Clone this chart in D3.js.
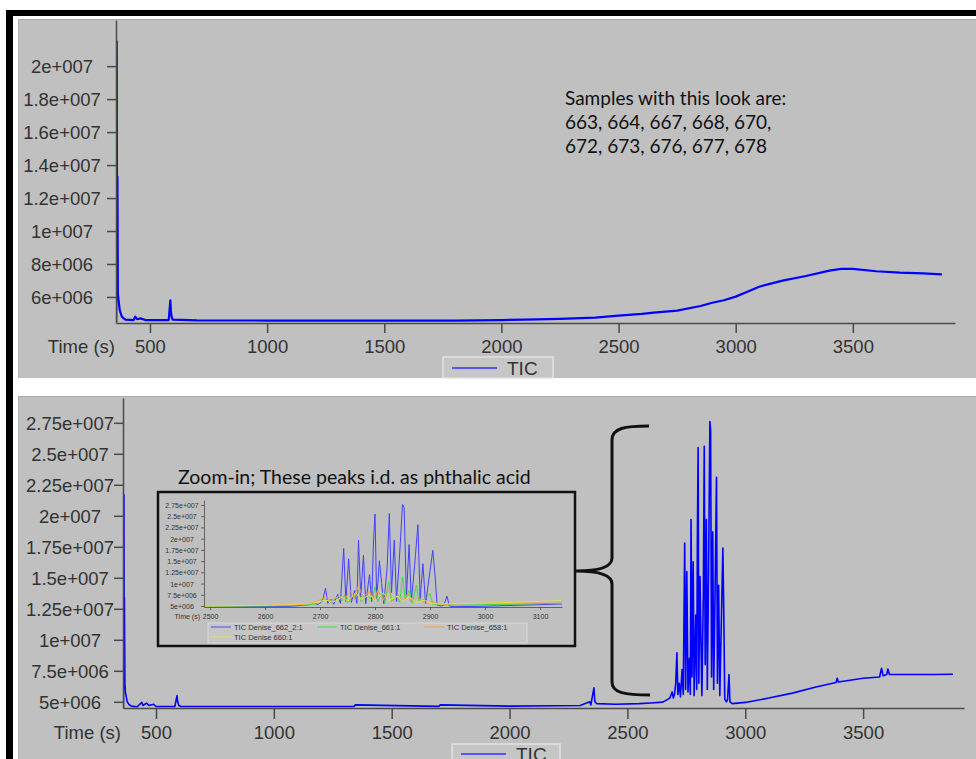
<!DOCTYPE html>
<html><head><meta charset="utf-8">
<script src="https://cdn.jsdelivr.net/npm/d3@7"></script>
<style>body{margin:0;background:#fff}svg{display:block}</style>
</head><body><svg id="c" width="976" height="759"></svg>
<script>
// ---------- DATA ----------
const topTime = [356,358,359,360,361,363,366,371,380,395,430,437,445,460,480,580,587,589,592,597,700,1000,1200,1500,1800,2000,2100,2250,2400,2500,2600,2650,2750,2850,2900,2950,3000,3050,3100,3200,3300,3400,3450,3500,3600,3700,3800,3880];
const topTIC  = [4.5e6,2.15e7,1.2e7,1.0e7,1.33e7,6.2e6,5.8e6,5.2e6,4.8e6,4.62e6,4.6e6,4.8e6,4.65e6,4.7e6,4.6e6,4.6e6,5.8e6,5.2e6,4.8e6,4.62e6,4.58e6,4.57e6,4.57e6,4.56e6,4.57e6,4.6e6,4.62e6,4.67e6,4.75e6,4.87e6,4.97e6,5.05e6,5.17e6,5.45e6,5.65e6,5.8e6,6.02e6,6.32e6,6.62e6,6.99e6,7.27e6,7.6e6,7.7e6,7.7e6,7.56e6,7.47e6,7.43e6,7.37e6];

const botTime = [362,364,365,366,368,370,373,378,385,395,420,440,445,460,470,490,500,580,589,592,597,605,1000,1340,1345,1700,1705,2000,2200,2300,2340,2345,2358,2362,2370,2450,2550,2600,2650,2680,2690,2695,2700,2705,2710,2714,2720,2725,2732,2737,2743,2747,2752,2757,2763,2767,2770,2774,2779,2783,2790,2794,2797,2800,2803,2808,2812,2816,2822,2826,2830,2835,2839,2844,2850,2853,2857,2862,2866,2872,2878,2882,2887,2892,2898,2905,2909,2913,2920,2925,2931,2935,2945,3000,3100,3200,3300,3385,3390,3395,3500,3570,3578,3585,3600,3605,3612,3700,3800,3881];
const botTIC  = [4.5e6,2.17e7,1.0e7,1.34e7,6.5e6,5.8e6,5.5e6,5.0e6,4.8e6,4.65e6,4.6e6,4.95e6,4.7e6,4.9e6,4.7e6,4.8e6,4.62e6,4.62e6,5.5e6,5.0e6,4.7e6,4.62e6,4.62e6,4.62e6,4.75e6,4.63e6,4.75e6,4.65e6,4.68e6,4.7e6,5.0e6,4.75e6,6.13e6,5.0e6,4.85e6,4.8e6,4.85e6,4.9e6,4.97e6,5.3e6,5.8e6,5.3e6,5.6e6,6.5e6,8.95e6,5.6e6,6.5e6,5.4e6,7.6e6,5.6e6,1.78e7,6.0e6,1.55e7,5.8e6,8.5e6,5.6e6,1.97e7,7.0e6,1.63e7,5.5e6,1.2e7,6.0e6,1.86e7,2.55e7,6.5e6,1.51e7,1.0e7,5.5e6,1.35e7,2.56e7,8.0e6,1.97e7,6.0e6,1.5e7,2.76e7,2.69e7,7.0e6,1.87e7,6.0e6,1.4e7,2.31e7,6.5e6,1.44e7,5.5e6,1.1e7,1.74e7,1.2e7,5.2e6,5.0e6,5.2e6,7.2e6,5.0e6,4.85e6,4.95e6,5.3e6,5.7e6,6.2e6,6.55e6,6.9e6,6.6e6,6.9e6,7.0e6,7.7e6,7.1e6,7.2e6,7.65e6,7.2e6,7.2e6,7.2e6,7.22e6];

const inset661Time = [2489,2600,2680,2700,2710,2720,2730,2740,2745,2750,2760,2770,2775,2785,2795,2800,2805,2812,2818,2825,2830,2840,2845,2850,2855,2862,2868,2875,2880,2890,2900,2905,2950,3000,3140];
const inset661     = [4.9e6,5.0e6,5.3e6,5.6e6,6.5e6,5.8e6,6.8e6,6.2e6,7.5e6,5.8e6,6.5e6,8.5e6,6.0e6,7.5e6,6.2e6,9.3e6,6.0e6,7.8e6,5.8e6,1.04e7,6.0e6,7.2e6,5.8e6,1.15e7,6.5e6,8.5e6,5.6e6,9.7e6,6.0e6,6.5e6,7.8e6,5.3e6,5.2e6,5.3e6,5.6e6];
const inset658Time = [2489,2600,2670,2690,2710,2720,2735,2745,2755,2762,2770,2777,2790,2798,2805,2815,2825,2833,2843,2850,2860,2868,2878,2890,2900,2920,3000,3140];
const inset658     = [5.0e6,5.1e6,5.4e6,5.8e6,7.0e6,6.2e6,7.3e6,6.5e6,8.5e6,6.4e6,9.7e6,7.0e6,8.2e6,6.4e6,8.5e6,6.3e6,8.6e6,6.2e6,7.5e6,6.2e6,7.8e6,5.8e6,7.2e6,5.6e6,6.0e6,5.4e6,5.6e6,6.0e6];
const inset660Time = [2489,2600,2680,2710,2725,2740,2750,2765,2775,2790,2800,2815,2825,2840,2850,2862,2875,2890,2905,2950,3050,3140];
const inset660     = [5.0e6,5.15e6,5.5e6,6.3e6,5.9e6,7.0e6,6.0e6,8.0e6,6.4e6,7.5e6,6.2e6,8.0e6,6.2e6,7.2e6,6.0e6,7.0e6,5.8e6,6.3e6,5.5e6,5.5e6,5.8e6,6.2e6];

const topYTicks = [6e6,8e6,1e7,1.2e7,1.4e7,1.6e7,1.8e7,2e7];
const botYTicks = [5e6,7.5e6,1e7,1.25e7,1.5e7,1.75e7,2e7,2.25e7,2.5e7,2.75e7];
const xTicks = [500,1000,1500,2000,2500,3000,3500];
const insetXTicks = [2500,2600,2700,2800,2900,3000,3100];
const insetLegend = ["TIC Denise_662_2:1","TIC Denise_661:1","TIC Denise_658:1","TIC Denise 660:1"];
const insetColors = ["#4040ff","#33dd33","#ff9933","#e6e640"];
const legendLabel = "TIC";
const noteLines = ["Samples with this look are:","663, 664, 667, 668, 670,","672, 673, 676, 677, 678"];
const insetTitle = "Zoom-in; These peaks i.d. as phthalic acid";

// ---------- HELPERS ----------
function sci(v){
  const e = Math.floor(Math.log10(v)+1e-9);
  let m = +(v/Math.pow(10,e)).toFixed(3);
  return m + "e+" + String(e).padStart(3,"0");
}
const svg = d3.select("#c");
const FONT = "'Liberation Sans', Arial, sans-serif";
const NOTEFONT = "Lato, 'Open Sans', sans-serif";
const GRAY = "#c0c0c0";
const AX = "#4a4a4a";

// frame
svg.append("rect").attr("x",6).attr("y",10).attr("width",980).attr("height",760).attr("fill","#000");
svg.append("rect").attr("x",13).attr("y",16).attr("width",980).attr("height",760).attr("fill","#fff");
function bg(y0,y1){
  svg.append("rect").attr("x",18).attr("y",y0).attr("width",960).attr("height",y1-y0).attr("fill",GRAY);
  svg.append("line").attr("x1",18).attr("x2",976).attr("y1",y0+0.5).attr("y2",y0+0.5).attr("stroke","#a8a8a8");
  svg.append("line").attr("x1",18.5).attr("x2",18.5).attr("y1",y0).attr("y2",y1).attr("stroke","#b0b0b0");
}
bg(19,378);
bg(396,770);

function panel(o){
  const x = d3.scaleLinear().domain(o.xd).range(o.xr);
  const y = d3.scaleLinear().domain(o.yd).range(o.yr);
  const g = svg.append("g");
  const id = "clip"+o.id;
  svg.append("clipPath").attr("id",id).append("rect")
    .attr("x",o.xr[0]).attr("y",o.yr[1]).attr("width",o.xr[1]-o.xr[0]).attr("height",o.yr[0]-o.yr[1]);
  o.series.forEach(s=>{
    const pts = s.t.map((t,i)=>[t,s.v[i]]);
    g.append("path").attr("clip-path",`url(#${id})`)
      .attr("d", d3.line().x(d=>x(d[0])).y(d=>y(d[1]))(pts))
      .attr("fill","none").attr("stroke",s.c).attr("stroke-width",s.w).attr("stroke-linejoin","round");
  });
  const ya = g.append("g").attr("transform",`translate(${o.xr[0]},0)`)
    .call(d3.axisLeft(y).tickValues(o.yt).tickFormat(sci).tickSize(o.ts).tickSizeOuter(0));
  ya.selectAll("text").attr("text-anchor","middle").attr("x",o.ylc-o.xr[0]).attr("dy","0.35em")
    .style("font-family",FONT).style("font-size",o.fs+"px").attr("fill","#333");
  const xa = g.append("g").attr("transform",`translate(0,${o.yr[0]})`)
    .call(d3.axisBottom(x).tickValues(o.xt).tickFormat(d3.format("d")).tickSize(o.tsx).tickSizeOuter(0));
  xa.selectAll("text").attr("y",o.xly).attr("dy","0.35em")
    .style("font-family",FONT).style("font-size",o.fs+"px").attr("fill","#333");
  [ya,xa].forEach(a=>{
    a.select(".domain").attr("stroke",AX).attr("stroke-width",o.aw);
    a.selectAll(".tick line").attr("stroke",AX).attr("stroke-width",o.aw);
  });
  g.append("text").attr("x",o.tlx).attr("y",o.yr[0]+o.xly).attr("dy","0.35em").attr("text-anchor","end")
    .style("font-family",FONT).style("font-size",o.fs+"px").attr("fill","#333").text("Time (s)");
  return {x,y,g};
}

// top panel
panel({id:"t", xd:[355,3936], xr:[116,955], yd:[4.42e6,2.28e7], yr:[323,20],
  yt:topYTicks, xt:xTicks, ts:9, tsx:10, ylc:62, xly:24, fs:18.5, aw:1.5, tlx:115,
  series:[{t:topTime,v:topTIC,c:"#0000ff",w:2.2}]});

// legends
function legend(x0,y0,w,h,ly){
  svg.append("rect").attr("x",x0).attr("y",y0).attr("width",w).attr("height",h)
    .attr("fill","#c6c6c6").attr("stroke","#e2e2e2").attr("stroke-width",1.5);
  svg.append("line").attr("x1",x0+9).attr("x2",x0+54).attr("y1",ly).attr("y2",ly).attr("stroke","#3030ff").attr("stroke-width",1.6);
  svg.append("text").attr("x",x0+64).attr("y",ly).attr("dy","0.38em").style("font-family",FONT)
    .style("font-size","19px").attr("fill","#333").text(legendLabel);
}
legend(443,357,110,21,368);

// note
svg.append("g").selectAll("text").data(noteLines).join("text")
  .attr("x",565).attr("y",(d,i)=>98+i*24).attr("dy","0.35em")
  .style("font-family",NOTEFONT).style("font-size","19px").attr("fill","#111").text(d=>d);

// bottom panel
panel({id:"b", xd:[360,3928], xr:[123,964], yd:[4.5e6,2.95e7], yr:[708,398],
  yt:botYTicks, xt:xTicks, ts:9, tsx:11, ylc:70, xly:25, fs:18.5, aw:1.5, tlx:121,
  series:[{t:botTime,v:botTIC,c:"#0000ff",w:1.6}]});

legend(452,744,108,30,754);

// inset title
svg.append("text").attr("x",178).attr("y",477).attr("dy","0.35em")
  .style("font-family",NOTEFONT).style("font-size","19.5px").attr("fill","#111").text(insetTitle);

// inset frame
svg.append("rect").attr("x",158).attr("y",492).attr("width",417).attr("height",154)
  .attr("fill",GRAY).attr("stroke","#111").attr("stroke-width",2.5);

panel({id:"i", xd:[2489,3140], xr:[204,562], yd:[4.78e6,2.86e7], yr:[607,500],
  yt:botYTicks, xt:insetXTicks, ts:3, tsx:3, ylc:182, xly:10, fs:7, aw:0.8, tlx:200,
  series:[
    {t:botTime,v:botTIC,c:insetColors[0],w:1},
    {t:inset661Time,v:inset661,c:insetColors[1],w:0.9},
    {t:inset658Time,v:inset658,c:insetColors[2],w:0.9},
    {t:inset660Time,v:inset660,c:insetColors[3],w:0.9}
  ]});

// inset legend
svg.append("rect").attr("x",208).attr("y",623).attr("width",319).attr("height",20)
  .attr("fill","#c6c6c6").attr("stroke","#dedede").attr("stroke-width",0.8);
const legPos = [[211,627],[317,627],[424,627],[211,637]];
insetLegend.forEach((lab,i)=>{
  const [lx,ly] = legPos[i];
  svg.append("line").attr("x1",lx).attr("x2",lx+20).attr("y1",ly).attr("y2",ly).attr("stroke",insetColors[i]).attr("stroke-width",0.9);
  svg.append("text").attr("x",lx+23).attr("y",ly).attr("dy","0.35em").style("font-family",FONT).style("font-size","7.5px")
    .attr("fill","#333").text(lab);
});

// brace
svg.append("path")
  .attr("d","M649,426 C625,426 612,428 612,440 L612,558 C612,567 600,571 576,571 C600,571 612,575 612,584 L612,682 C612,693 625,695 650,695")
  .attr("fill","none").attr("stroke","#111").attr("stroke-width",3);
</script></body></html>
